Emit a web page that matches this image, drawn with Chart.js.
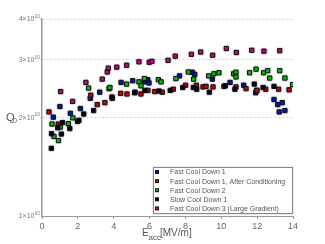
<!DOCTYPE html>
<html>
<head>
<meta charset="UTF-8">
<title>Q0 vs Eacc</title>
<script src="https://cdn.jsdelivr.net/npm/chart.js"></script>
<style>
  html, body { margin: 0; padding: 0; background: #fff; }
</style>
</head>
<body>
<canvas id="myChart" width="325" height="244"></canvas>
<script>
// Eacc [MV/m] and Q0 values
const fcd1E = [0.63, 1.00, 1.58, 2.14, 2.69, 3.22, 4.41, 5.06, 5.71, 5.90, 5.97, 7.67, 8.38, 8.52, 9.50, 10.49, 11.25, 11.92, 11.97, 12.94, 13.15, 13.40, 13.23, 13.55];
const fcd1Q = [2.005e10, 2.16e10, 2.06e10, 2.13e10, 2.29e10, 2.39e10, 2.56e10, 2.59e10, 2.57e10, 2.61e10, 2.55e10, 2.68e10, 2.75e10, 2.71e10, 2.62e10, 2.56e10, 2.51e10, 2.38e10, 2.42e10, 2.27e10, 2.19e10, 2.22e10, 2.08e10, 2.10e10];

const fcd1aE = [0.39, 0.91, 2.72, 3.08, 3.51, 3.92, 4.39, 4.74, 5.19, 5.52, 5.91, 6.29, 6.71, 7.32, 8.01, 8.61, 8.98, 9.15, 9.54, 10.15, 10.82, 11.38, 11.99, 12.48, 13.20, 13.78];
const fcd1aQ = [2.08e10, 1.91e10, 2.34e10, 2.19e10, 2.22e10, 2.29e10, 2.37e10, 2.36e10, 2.39e10, 2.36e10, 2.42e10, 2.40e10, 2.39e10, 2.44e10, 2.51e10, 2.51e10, 2.48e10, 2.49e10, 2.48e10, 2.49e10, 2.48e10, 2.45e10, 2.42e10, 2.44e10, 2.44e10, 2.43e10];

const fcd2E = [0.56, 0.67, 0.92, 1.02, 1.47, 1.72, 2.60, 3.74, 3.79, 4.72, 5.41, 5.52, 5.71, 6.49, 6.64, 7.47, 8.16, 8.46, 9.30, 9.59, 9.87, 10.69, 10.82, 10.82, 11.58, 11.94, 12.36, 12.59, 12.70, 13.26, 13.55, 13.98];
const fcd2Q = [1.91e10, 1.75e10, 1.70e10, 1.87e10, 1.915e10, 1.995e10, 2.46e10, 2.45e10, 2.47e10, 2.53e10, 2.57e10, 2.50e10, 2.63e10, 2.61e10, 2.57e10, 2.63e10, 2.755e10, 2.62e10, 2.68e10, 2.72e10, 2.74e10, 2.72e10, 2.75e10, 2.66e10, 2.74e10, 2.81e10, 2.74e10, 2.78e10, 2.64e10, 2.78e10, 2.64e10, 2.52e10];

const scd1E = [0.52, 0.53, 0.88, 1.08, 1.14, 1.55, 1.98, 2.06, 2.33, 2.88, 3.90, 5.17, 5.74, 6.53, 7.15, 7.85, 8.44, 8.63, 9.33, 10.22, 10.76, 11.84, 12.33, 12.94];
const scd1Q = [1.61e10, 1.785e10, 1.86e10, 1.78e10, 1.93e10, 1.85e10, 1.945e10, 1.96e10, 2.05e10, 2.10e10, 2.31e10, 2.38e10, 2.42e10, 2.41e10, 2.42e10, 2.47e10, 2.47e10, 2.44e10, 2.39e10, 2.50e10, 2.44e10, 2.53e10, 2.47e10, 2.49e10];

const fcd3E = [1.04, 1.71, 2.45, 3.36, 3.64, 3.70, 4.17, 4.72, 5.41, 5.98, 6.13, 7.03, 7.43, 8.33, 8.85, 9.52, 10.28, 10.84, 11.70, 12.38, 13.26];
const fcd3Q = [2.40e10, 2.24e10, 2.56e10, 2.62e10, 2.755e10, 2.83e10, 2.85e10, 2.89e10, 2.96e10, 2.95e10, 2.97e10, 2.99e10, 3.08e10, 3.12e10, 3.17e10, 3.10e10, 3.25e10, 3.16e10, 3.21e10, 3.19e10, 3.20e10];

const seriesNames = ['Fast Cool Down 1', 'Fast Cool Down 1, After Conditioning', 'Fast Cool Down 2', 'Slow Cool Down 1', 'Fast Cool Down 3 (Large Gradient)'];
const seriesColors = ['#0018d0', '#e00000', '#00d000', '#000028', '#e0008c'];
const xTicks = [0, 2, 4, 6, 8, 10, 12, 14];
const yTicks = [1e10, 2e10, 3e10, 4e10];
const yTickMant = ['1', '2', '3', '4'];

const xs = [fcd1E, fcd1aE, fcd2E, scd1E, fcd3E];
const ys = [fcd1Q, fcd1aQ, fcd2Q, scd1Q, fcd3Q];

const datasets = seriesNames.map((name, i) => ({
    label: name,
    data: xs[i].map((x, j) => ({ x: x, y: ys[i][j] })),
    backgroundColor: seriesColors[i],
    borderColor: '#111',
    borderWidth: 1,
    pointStyle: 'rect',
    pointRadius: 3,
    order: 4 - i
}));

// soft grey halo round the markers
const haloPlugin = {
    id: 'halo',
    beforeDatasetsDraw(chart) {
        const ctx = chart.ctx;
        ctx.save();
        ctx.shadowColor = 'rgba(0,0,0,0.35)';
        ctx.shadowBlur = 2;
    },
    afterDatasetsDraw(chart) {
        chart.ctx.restore();
    }
};

// y tick labels with superscript, axis titles and the boxed legend
const decoPlugin = {
    id: 'deco',
    afterDraw(chart) {
        const ctx = chart.ctx;
        const area = chart.chartArea;
        const yScale = chart.scales.y;
        ctx.save();

        // y tick labels  N×10^10
        ctx.fillStyle = '#777';
        ctx.textBaseline = 'middle';
        yTicks.forEach((v, i) => {
            const py = yScale.getPixelForValue(v);
            ctx.textAlign = 'right';
            ctx.font = '5px "Liberation Sans"';
            ctx.fillText('10', 40, py - 2.5);
            const supW = ctx.measureText('10').width;
            ctx.font = '7px "Liberation Sans"';
            ctx.fillText(yTickMant[i] + '\u00d710', 40 - supW, py + 0.5);
        });

        ctx.fillStyle = '#555';
        ctx.textAlign = 'left';
        ctx.textBaseline = 'alphabetic';

        // y title Q0
        ctx.font = '11px "Liberation Sans"';
        ctx.fillText('Q', 6, 121);
        ctx.font = '7px "Liberation Sans"';
        ctx.fillText('0', 13, 123);

        // x title Eacc[MV/m]
        ctx.font = '10px "Liberation Sans"';
        ctx.fillText('E', 142, 236);
        ctx.font = '8px "Liberation Sans"';
        ctx.fillText('acc', 148.5, 240);
        ctx.font = '10px "Liberation Sans"';
        ctx.fillText('[MV/m]', 160, 236);

        // legend
        const lx = 153, ly = 167, lw = area.right - 153, lh = area.bottom - 2 - 167;
        ctx.shadowColor = 'rgba(0,0,0,0.25)';
        ctx.shadowBlur = 2;
        ctx.fillStyle = '#fff';
        ctx.fillRect(lx, ly, lw, lh);
        ctx.shadowColor = 'transparent';
        ctx.strokeStyle = '#888';
        ctx.lineWidth = 1;
        ctx.strokeRect(lx + 0.5, ly + 0.5, lw - 1, lh - 1);
        ctx.font = '7px "Liberation Sans"';
        ctx.textBaseline = 'middle';
        seriesNames.forEach((name, i) => {
            const cy = 172 + i * 9.1;
            ctx.fillStyle = '#111';
            ctx.fillRect(155, cy - 2, 4, 4);
            ctx.fillStyle = seriesColors[i];
            ctx.fillRect(156, cy - 1, 2, 2);
            ctx.fillStyle = '#555';
            ctx.fillText(name, 170, cy + 0.5);
        });
        ctx.restore();
    }
};

const ctx = document.getElementById('myChart').getContext('2d');
const myChart = new Chart(ctx, {
    type: 'scatter',
    data: { datasets: datasets },
    options: {
        responsive: false,
        animation: false,
        layout: { padding: { top: 19, right: 32, left: 0, bottom: 0 } },
        plugins: {
            legend: { display: false },
            tooltip: { enabled: false }
        },
        scales: {
            x: {
                type: 'linear',
                min: 0,
                max: 14,
                afterBuildTicks: (scale) => { scale.ticks = xTicks.map(v => ({ value: v })); },
                afterFit: (scale) => { scale.height = 28; },
                grid: { drawOnChartArea: false, tickLength: 3, color: '#999' },
                border: { color: '#999', width: 1 },
                ticks: { color: '#666', padding: 2, font: { family: 'Liberation Sans', size: 9 } }
            },
            y: {
                type: 'logarithmic',
                min: 1e10,
                max: 4e10,
                afterBuildTicks: (scale) => { scale.ticks = yTicks.map(v => ({ value: v })); },
                afterFit: (scale) => { scale.width = 42; },
                grid: {
                    color: (c) => c.tick && c.tick.value === 1e10 ? 'rgba(0,0,0,0)' : '#d0d0d0',
                    tickLength: 2
                },
                border: { color: '#999', width: 1.5, dash: [2, 2] },
                ticks: { display: false }
            }
        }
    },
    plugins: [haloPlugin, decoPlugin]
});
</script>
</body>
</html>
